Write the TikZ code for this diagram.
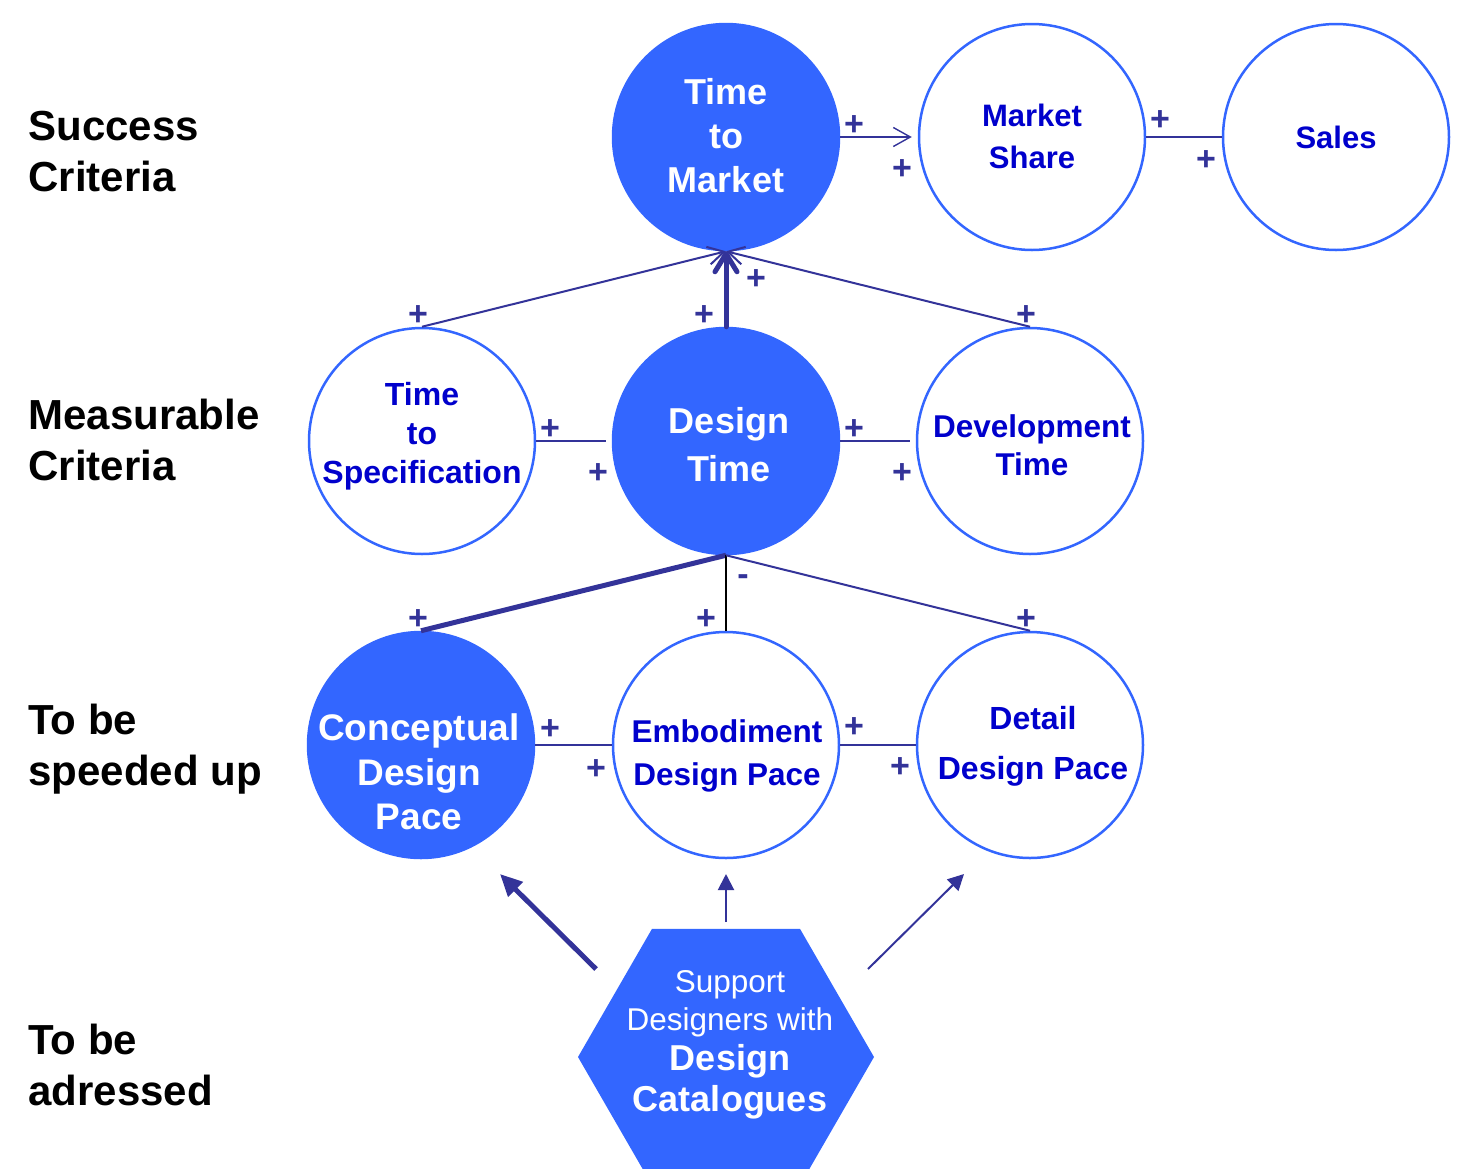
\documentclass[tikz,border=0pt]{standalone}
\usepackage{fontspec}
\setmainfont{Liberation Sans}
\usetikzlibrary{arrows.meta,shapes.geometric}
\definecolor{cblue}{HTML}{3366FF}
\definecolor{tblue}{HTML}{0000CC}
\definecolor{lblue}{HTML}{333399}
\tikzset{
  full/.style={circle,draw=cblue,fill=cblue,line width=1.25pt,minimum size=113pt,inner sep=0pt},
  empty/.style={circle,draw=cblue,fill=white,line width=1.25pt,minimum size=113pt,inner sep=0pt},
  wtext/.style={text=white,align=center,inner sep=0pt},
  btext/.style={text=tblue,align=center,inner sep=0pt},
  sign/.style={text=lblue,inner sep=0pt,font=\bfseries\fontsize{17}{17}\selectfont},
  rowtitle/.style={anchor=west,align=left,inner sep=0pt,font=\bfseries\fontsize{21}{25.5}\selectfont},
  link/.style={draw=lblue,line width=1pt},
  fat/.style={draw=lblue,line width=2.5pt},
  barb/.style={-{Straight Barb[length=8pt,width=9pt]}},
  push/.style={-{Triangle[length=8pt,width=8pt]}},
}
\begin{document}
\begin{tikzpicture}[x=0.5pt,y=-0.5pt]
\useasboundingbox (0,0) rectangle (1462,1168);
\node[rowtitle] (succ) at (28,152) {Success\\Criteria};
\node[rowtitle] (meas) at (28,440) {Measurable\\Criteria};
\node[rowtitle] (speed) at (28,749) {To be\\speeded up};
\node[rowtitle] (addr) at (28,1065) {To be\\adressed};

\node[full] (ttm) at (726,137) {};
\node[empty] (ms) at (1032,137) {};
\node[empty] (sales) at (1336,137) {};
\node[empty] (tts) at (422,441) {};
\node[full] (dt) at (726,441) {};
\node[empty] (devt) at (1030,441) {};
\node[full] (cdp) at (421,745) {};
\node[empty] (edp) at (726,745) {};
\node[empty] (ddp) at (1030,745) {};
\node[regular polygon,regular polygon sides=6,fill=cblue,minimum size=148pt,inner sep=0pt] (hex) at (726,1057) {};

\node[wtext,font=\bfseries\fontsize{18}{22}\selectfont] (ttm-t) at (726,136) {Time\\to\\Market};
\node[btext,font=\bfseries\fontsize{15.5}{21}\selectfont] (ms-t) at (1032,136) {Market\\Share};
\node[btext,font=\bfseries\fontsize{15.5}{21}\selectfont] (sales-t) at (1336,137) {Sales};
\node[btext,font=\bfseries\fontsize{16}{19.5}\selectfont] (tts-t) at (422,436) {Time\\to\\Specification};
\node[wtext,font=\bfseries\fontsize{18}{24}\selectfont] (dt-t) at (729,445) {Design\\Time};
\node[btext,font=\bfseries\fontsize{15.75}{19}\selectfont] (devt-t) at (1032,445) {Development\\Time};
\node[wtext,font=\bfseries\fontsize{18.5}{22.25}\selectfont] (cdp-t) at (419,772) {Conceptual\\Design\\Pace};
\node[btext,font=\bfseries\fontsize{15.75}{21.5}\selectfont] (edp-t) at (727,756) {Embodiment\\Design Pace};
\node[btext,font=\bfseries\fontsize{16}{25}\selectfont] (ddp-t) at (1033,746) {Detail\\Design Pace};
\node[wtext,font=\fontsize{15.75}{19}\selectfont] (hex-t1) at (730,1004) {Support\\Designers with};
\node[wtext,font=\bfseries\fontsize{18}{20.5}\selectfont] (hex-t2) at (730,1082) {Design\\Catalogues};

\draw[link,line width=0.7pt,-{Straight Barb[length=8.5pt,width=9.5pt]},shorten >=3pt] (ttm.east) -- (ms.west);
\draw[link] (ms.east) -- (sales.west);
\draw[link,barb] (tts.north) -- (ttm.south);
\draw[link,barb] (devt.north) -- (ttm.south);
\draw[fat,line cap=round,-{Straight Barb[length=9pt,width=11pt,round]}] (dt.north) -- (ttm.south);
\draw[link,shorten >=3pt] (tts.east) -- (dt.west);
\draw[link,shorten >=3pt] (dt.east) -- (devt.west);
\draw[fat] (dt.south) -- (cdp.north);
\draw[black,line width=1pt] (dt.south) -- (edp.north);
\draw[link] (dt.south) -- (ddp.north);
\draw[link] (cdp.east) -- (edp.west);
\draw[link] (edp.east) -- (ddp.west);

\coordinate (l1) at (596,969); \coordinate (l2) at (500,874);
\coordinate (m1) at (726,922); \coordinate (m2) at (726,874);
\coordinate (r1) at (868,969); \coordinate (r2) at (964,874);
\draw[fat,-{Triangle[length=11pt,width=10pt]}] (l1) -- (l2);
\draw[link,push] (m1) -- (m2);
\draw[link,push] (r1) -- (r2);

\foreach \x/\y [count=\i] in {854/126,902/170,1160/121,1206/161,418/316,704/316,756/280,1026/316,550/430,598/474,854/430,902/474,418/620,706/620,1026/620,550/730,596/770,854/728,900/768}
  \node[sign] (plus\i) at (\x,\y) {+};
\node[sign] (minus) at (743,580) {-};
\end{tikzpicture}
\end{document}
